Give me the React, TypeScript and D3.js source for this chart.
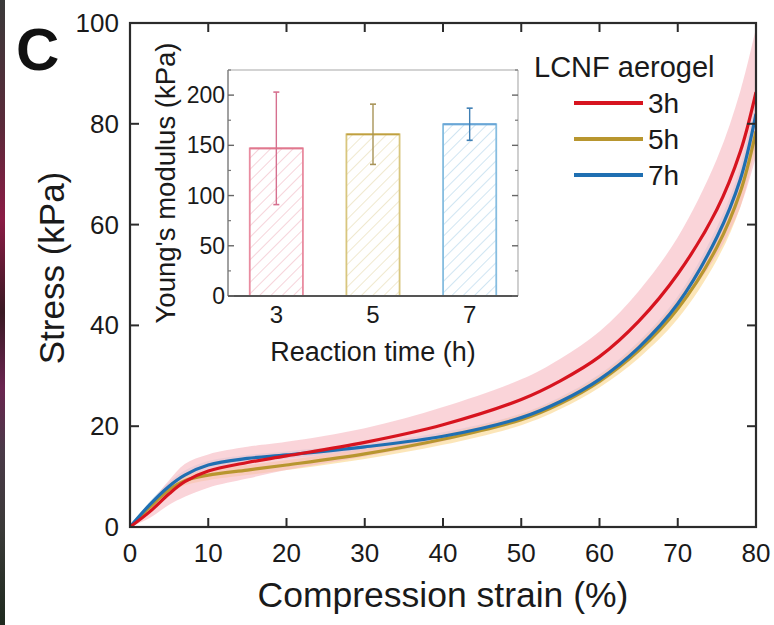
import React from "react";
import * as d3 from "d3";

// ---------- data ----------
const strain = [0, 2.5, 5, 7, 10, 15, 20, 30, 40, 50, 55, 60, 65, 70, 75, 78, 80];
const stress3h = [0, 3.0, 6.6, 9.0, 11.1, 12.8, 14.1, 16.8, 20.3, 25.3, 29.0, 33.8, 40.8, 50.2, 63, 74.5, 86.3];
const stress3hUpper = [0, 4.6, 9.3, 12.5, 14.4, 15.9, 16.9, 19.6, 23.8, 29.3, 33.4, 38.8, 46.8, 57.5, 73, 86.5, 99];
const stress3hLower = [0, 1.8, 4.4, 6.0, 7.8, 9.6, 11.3, 14.0, 17.0, 21.5, 24.9, 29.4, 35.3, 43.3, 54, 63.5, 73.5];
const stress5h = [0, 3.9, 7.4, 9.2, 10.3, 11.3, 12.3, 14.5, 17.4, 21.3, 24.5, 28.9, 35.0, 43.3, 55.5, 66.5, 78.5];
const stress5hUpper = [0, 4.6, 8.4, 10.2, 11.3, 12.3, 13.3, 15.5, 18.4, 22.4, 25.6, 30.1, 36.5, 45.3, 58, 69.5, 82];
const stress5hLower = [0, 3.2, 6.6, 8.3, 9.3, 10.3, 11.3, 13.5, 16.3, 20.2, 23.4, 27.7, 33.5, 41.3, 53, 63.5, 75.5];
const stress7h = [0, 4.4, 8.1, 10.3, 12.3, 13.6, 14.3, 15.9, 18.0, 21.7, 24.9, 29.3, 35.6, 44.3, 57.5, 69, 82];
const stress7hUpper = [0, 5.0, 8.9, 11.2, 13.1, 14.3, 15.0, 16.6, 18.8, 22.5, 25.8, 30.3, 36.8, 45.8, 59.5, 71.5, 85];
const stress7hLower = [0, 3.8, 7.4, 9.5, 11.5, 12.9, 13.6, 15.2, 17.2, 20.9, 24.0, 28.3, 34.4, 42.8, 55.5, 66.5, 79];

const seriesNames = ["3h", "5h", "7h"];
const seriesColors = ["#d7141f", "#b8962f", "#1f6fb2"];
const bandColors = ["#f6b8c0", "#fbe0a8", "#bcd8ef"];

const xTicks = [0, 10, 20, 30, 40, 50, 60, 70, 80];
const yTicks = [0, 20, 40, 60, 80, 100];

// inset
const reactionTime = [3, 5, 7];
const modulus = [147, 161, 171];
const modulusErr = [56, 30, 16];
const barEdge = ["#e98ca0", "#d8c67e", "#86bde0"];
const barTop = ["#e0788e", "#c0a040", "#6aa6d6"];
const barHatch = ["#eeb0bd", "#e3d6a6", "#a9cfe8"];
const errColor = ["#d6708f", "#a89458", "#3f7fb4"];
const insetYTicks = [0, 50, 100, 150, 200];
const insetYMinor = [25, 75, 125, 175, 225];

const FONT = "'Liberation Sans', Arial, sans-serif";

export default function App() {
  const W = 774, H = 625;
  const x = d3.scaleLinear().domain([0, 80]).range([130, 756]);
  const y = d3.scaleLinear().domain([0, 100]).range([527, 23]);

  const pts = (vals: number[]) => strain.map((s, i) => [s, vals[i]] as [number, number]);
  const curve = d3.curveCatmullRom.alpha(0.5);
  const line = d3
    .line<[number, number]>()
    .x((d) => x(d[0]))
    .y((d) => y(d[1]))
    .curve(curve);
  const area = (lo: number[], hi: number[]) =>
    d3
      .area<number>()
      .x((_, i) => x(strain[i]))
      .y0((_, i) => y(lo[i]))
      .y1((_, i) => y(hi[i]))
      .curve(curve)(strain.map((_, i) => i)) || "";

  const series = [stress3h, stress5h, stress7h];
  const bands = [
    [stress3hLower, stress3hUpper],
    [stress5hLower, stress5hUpper],
    [stress7hLower, stress7hUpper],
  ];

  // inset scales
  const ix = d3.scaleLinear().domain([2, 8]).range([228, 518]);
  const iy = d3.scaleLinear().domain([0, 225]).range([296, 70]);
  const barW = ix(3.55) - ix(2.45);

  const axisColor = "#2b2b2b";
  const tickLen = 9;

  return (
    <svg width={W} height={H} style={{ display: "block", position: "absolute", left: 0, top: 0 }}>
      <defs>
        <linearGradient id="strip" x1="0" y1="0" x2="0" y2="1">
          <stop offset="0" stopColor="#3a3a3a" />
          <stop offset="0.2" stopColor="#5a2a3a" />
          <stop offset="0.35" stopColor="#8b1c45" />
          <stop offset="0.5" stopColor="#3a1a24" />
          <stop offset="0.62" stopColor="#6a2550" />
          <stop offset="0.72" stopColor="#4a3a48" />
          <stop offset="0.85" stopColor="#3a3a38" />
          <stop offset="1" stopColor="#1e2a1e" />
        </linearGradient>
        {barHatch.map((c, i) => (
          <pattern key={i} id={`hatch${i}`} patternUnits="userSpaceOnUse" width="8" height="8" patternTransform="rotate(45)">
            <line x1="0" y1="0" x2="0" y2="8" stroke={c} strokeWidth="1.1" />
          </pattern>
        ))}
        <clipPath id="plotClip">
          <rect x={130} y={23} width={626} height={504} />
        </clipPath>
      </defs>
      <rect x={0} y={0} width={W} height={H} fill="#fff" />
      <rect x={0} y={0} width={5} height={H} fill="url(#strip)" />

      {/* panel label */}
      <text x={16} y={70} fontFamily={FONT} fontWeight="bold" fontSize={60} fill="#111">C</text>

      {/* bands */}
      <g clipPath="url(#plotClip)">
        <path d={area(bands[2][0], bands[2][1])} fill={bandColors[2]} opacity={0.6} />
        <path d={area(bands[1][0], bands[1][1])} fill={bandColors[1]} opacity={0.8} />
        <path d={area(bands[0][0], bands[0][1])} fill={bandColors[0]} opacity={0.6} />
        {[1, 2, 0].map((i) => (
          <path key={i} d={line(pts(series[i])) || ""} fill="none" stroke={seriesColors[i]} strokeWidth={3.2} />
        ))}
      </g>

      {/* frame */}
      <rect x={130} y={23} width={626} height={504} fill="none" stroke={axisColor} strokeWidth={2.2} />
      {xTicks.map((t) => (
        <g key={"xt" + t}>
          <line x1={x(t)} x2={x(t)} y1={527} y2={527 - tickLen} stroke={axisColor} strokeWidth={2} />
          <line x1={x(t)} x2={x(t)} y1={23} y2={23 + tickLen} stroke={axisColor} strokeWidth={2} />
          <text x={x(t)} y={562} textAnchor="middle" fontFamily={FONT} fontSize={26} fill="#1a1a1a">{t}</text>
        </g>
      ))}
      {yTicks.map((t) => (
        <g key={"yt" + t}>
          <line x1={130} x2={130 + tickLen} y1={y(t)} y2={y(t)} stroke={axisColor} strokeWidth={2} />
          <line x1={756} x2={756 - tickLen} y1={y(t)} y2={y(t)} stroke={axisColor} strokeWidth={2} />
          <text x={119} y={y(t) + 9} textAnchor="end" fontFamily={FONT} fontSize={26} fill="#1a1a1a">{t}</text>
        </g>
      ))}
      <text x={443} y={607} textAnchor="middle" fontFamily={FONT} fontSize={35.5} fill="#1a1a1a">Compression strain (%)</text>
      <text transform="translate(64,268) rotate(-90)" textAnchor="middle" fontFamily={FONT} fontSize={35} fill="#1a1a1a">Stress (kPa)</text>

      {/* legend */}
      <text x={534} y={77} fontFamily={FONT} fontSize={29} fill="#1a1a1a">LCNF aerogel</text>
      {seriesNames.map((n, i) => (
        <g key={n}>
          <line x1={574} x2={643} y1={103 + i * 36} y2={103 + i * 36} stroke={seriesColors[i]} strokeWidth={4} />
          <text x={648} y={113 + i * 36} fontFamily={FONT} fontSize={28} fill="#1a1a1a">{n}</text>
        </g>
      ))}

      {/* inset */}
      <g>
        <rect x={228} y={70} width={290} height={226} fill="#fff" />
        {reactionTime.map((t, i) => {
          const x0 = ix(t) - barW / 2;
          const yt = iy(modulus[i]);
          return (
            <g key={"bar" + t}>
              <rect x={x0} y={yt} width={barW} height={296 - yt} fill={`url(#hatch${i})`} stroke={barEdge[i]} strokeWidth={1.8} />
              <line x1={x0} x2={x0 + barW} y1={yt} y2={yt} stroke={barTop[i]} strokeWidth={1.8} />
              <line x1={ix(t)} x2={ix(t)} y1={iy(modulus[i] + modulusErr[i])} y2={iy(modulus[i] - modulusErr[i])} stroke={errColor[i]} strokeWidth={1.4} />
              <line x1={ix(t) - 3} x2={ix(t) + 3} y1={iy(modulus[i] + modulusErr[i])} y2={iy(modulus[i] + modulusErr[i])} stroke={errColor[i]} strokeWidth={1.6} />
              <line x1={ix(t) - 3} x2={ix(t) + 3} y1={iy(modulus[i] - modulusErr[i])} y2={iy(modulus[i] - modulusErr[i])} stroke={errColor[i]} strokeWidth={1.6} />
              <text x={ix(t)} y={323} textAnchor="middle" fontFamily={FONT} fontSize={24} fill="#1a1a1a">{t}</text>
            </g>
          );
        })}
        <line x1={228} x2={518} y1={70} y2={70} stroke="#c4c4c4" strokeWidth={1.6} />
        <line x1={518} x2={518} y1={70} y2={296} stroke="#c4c4c4" strokeWidth={1.6} />
        <line x1={228} x2={228} y1={70} y2={296} stroke="#8a8a8a" strokeWidth={1.6} />
        <line x1={228} x2={518} y1={296} y2={296} stroke="#555" strokeWidth={1.8} />
        {insetYTicks.map((t) => (
          <g key={"iyt" + t}>
            <line x1={228} x2={234} y1={iy(t)} y2={iy(t)} stroke="#666" strokeWidth={1.4} />
            <line x1={518} x2={512} y1={iy(t)} y2={iy(t)} stroke="#666" strokeWidth={1.4} />
            <text x={225} y={iy(t) + 8} textAnchor="end" fontFamily={FONT} fontSize={23} fill="#1a1a1a">{t}</text>
          </g>
        ))}
        {insetYMinor.map((t) => (
          <g key={"iym" + t}>
            <line x1={228} x2={231} y1={iy(t)} y2={iy(t)} stroke="#777" strokeWidth={1.2} />
            <line x1={518} x2={515} y1={iy(t)} y2={iy(t)} stroke="#777" strokeWidth={1.2} />
          </g>
        ))}
        <text x={373} y={361} textAnchor="middle" fontFamily={FONT} fontSize={27} fill="#1a1a1a">Reaction time (h)</text>
        <text transform="translate(175,183) rotate(-90)" textAnchor="middle" fontFamily={FONT} fontSize={27.5} fill="#1a1a1a">Young's modulus (kPa)</text>
      </g>
    </svg>
  );
}
